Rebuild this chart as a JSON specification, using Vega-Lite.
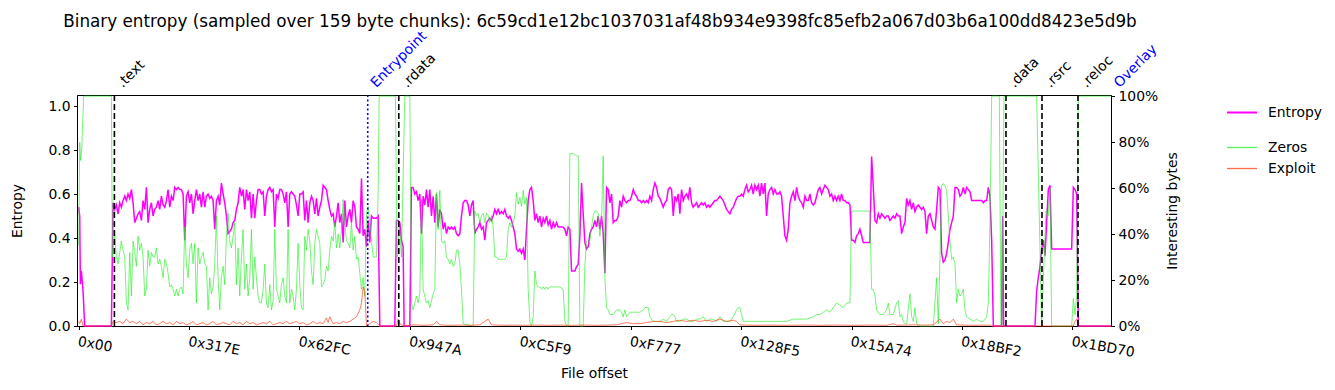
{
 "$schema": "https://vega.github.io/schema/vega-lite/v6.json",
 "width": 1034,
 "height": 231,
 "autosize": {"type": "none"},
 "padding": {"left": 77, "top": 95, "right": 224, "bottom": 64},
 "background": "white",
 "title": {"text": "Binary entropy (sampled over 159 byte chunks): 6c59cd1e12bc1037031af48b934e9398fc85efb2a067d03b6a100dd8423e5d9b", "font": "DejaVu Sans", "fontSize": 16.8, "fontWeight": "normal", "color": "black", "anchor": "middle", "frame": "group", "offset": -2, "dx": 6},
 "config": {
  "font": "DejaVu Sans",
  "view": {"stroke": "black", "strokeWidth": 1},
  "axis": {"grid": false, "labelFont": "DejaVu Sans", "labelFontSize": 13.9, "labelColor": "black", "titleFont": "DejaVu Sans", "titleFontSize": 13.9, "titleFontWeight": "normal", "titleColor": "black", "tickColor": "black", "domainColor": "black", "tickSize": 3.5, "tickWidth": 1, "domainWidth": 1, "labelPadding": 3.5},
  "legend": {"labelFont": "DejaVu Sans", "labelFontSize": 13.9, "labelColor": "black", "padding": 0, "rowPadding": 0, "symbolType": "stroke", "symbolSize": 900, "clipHeight": 21, "labelOffset": 10, "orient": "none"}
 },
 "datasets": {
  "ent": [
{"o":0,"v":0.54},{"o":115,"v":0.50},{"o":192,"v":0.19},{"o":307,"v":0.25},{"o":498,"v":0.16},{"o":689,"v":0},{"o":3751,"v":0},{"o":3942,"v":0.56},
{"o":4133,"v":0.53},{"o":4325,"v":0.55},{"o":4516,"v":0.51},{"o":4708,"v":0.56},{"o":4899,"v":0.54},{"o":5090,"v":0.57},{"o":5282,"v":0.59},{"o":5473,"v":0.57},{"o":5664,"v":0.60},{"o":5856,"v":0.58},{"o":6047,"v":0.62},{"o":6238,"v":0.56},{"o":6430,"v":0.47},{"o":6621,"v":0.49},{"o":6812,"v":0.51},{"o":7004,"v":0.52},{"o":7195,"v":0.48},{"o":7387,"v":0.57},{"o":7578,"v":0.53},{"o":7769,"v":0.63},{"o":7961,"v":0.47},{"o":8152,"v":0.53},{"o":8343,"v":0.56},{"o":8535,"v":0.50},{"o":8726,"v":0.53},{"o":8917,"v":0.54},{"o":9109,"v":0.57},{"o":9300,"v":0.53},{"o":9491,"v":0.59},{"o":9683,"v":0.55},{"o":9874,"v":0.54},{"o":10066,"v":0.57},{"o":10257,"v":0.62},{"o":10448,"v":0.54},{"o":10640,"v":0.59},{"o":10831,"v":0.57},{"o":11022,"v":0.63},{"o":11214,"v":0.62},{"o":11405,"v":0.63},{"o":11596,"v":0.62},{"o":11788,"v":0.62},{"o":11979,"v":0.60},{"o":12170,"v":0.39},{"o":12362,"v":0.59},{"o":12553,"v":0.61},{"o":12745,"v":0.56},{"o":12936,"v":0.60},{"o":13127,"v":0.51},{"o":13319,"v":0.57},{"o":13510,"v":0.62},{"o":13701,"v":0.57},{"o":13893,"v":0.60},{"o":14084,"v":0.54},{"o":14275,"v":0.61},{"o":14467,"v":0.54},{"o":14658,"v":0.59},{"o":14849,"v":0.60},{"o":15041,"v":0.58},{"o":15232,"v":0.59},{"o":15424,"v":0.57},{"o":15615,"v":0.44},{"o":15806,"v":0.57},{"o":15998,"v":0.59},{"o":16189,"v":0.55},{"o":16380,"v":0.65},{"o":16572,"v":0.60},{"o":16763,"v":0.56},{"o":16954,"v":0.50},{"o":17146,"v":0.42},{"o":17337,"v":0.43},{"o":17528,"v":0.44},{"o":17720,"v":0.47},{"o":17911,"v":0.48},{"o":18103,"v":0.53},{"o":18294,"v":0.56},{"o":18485,"v":0.63},{"o":18677,"v":0.59},{"o":18868,"v":0.62},{"o":19059,"v":0.53},{"o":19251,"v":0.62},{"o":19442,"v":0.57},{"o":19633,"v":0.61},{"o":19825,"v":0.49},{"o":20016,"v":0.60},{"o":20207,"v":0.49},{"o":20399,"v":0.57},{"o":20590,"v":0.62},{"o":20781,"v":0.62},{"o":20973,"v":0.60},{"o":21164,"v":0.61},{"o":21356,"v":0.50},{"o":21547,"v":0.59},{"o":21738,"v":0.62},{"o":21930,"v":0.63},{"o":22121,"v":0.61},{"o":22312,"v":0.62},{"o":22504,"v":0.45},{"o":22695,"v":0.60},{"o":22886,"v":0.58},{"o":23078,"v":0.62},{"o":23269,"v":0.62},{"o":23460,"v":0.60},{"o":23652,"v":0.56},{"o":23843,"v":0.61},{"o":24035,"v":0.45},{"o":24226,"v":0.60},{"o":24417,"v":0.61},{"o":24608,"v":0.60},{"o":24800,"v":0.59},{"o":24991,"v":0.55},{"o":25183,"v":0.50},{"o":25374,"v":0.60},{"o":25565,"v":0.60},{"o":25757,"v":0.61},{"o":25948,"v":0.48},{"o":26139,"v":0.57},{"o":26331,"v":0.47},{"o":26522,"v":0.56},{"o":26713,"v":0.59},{"o":26905,"v":0.57},{"o":27096,"v":0.51},{"o":27287,"v":0.58},{"o":27479,"v":0.50},{"o":27670,"v":0.54},{"o":27862,"v":0.57},{"o":28053,"v":0.64},{"o":28244,"v":0.63},{"o":28435,"v":0.62},{"o":28627,"v":0.57},{"o":28818,"v":0.53},{"o":29010,"v":0.50},{"o":29201,"v":0.51},{"o":29392,"v":0.45},{"o":29584,"v":0.50},{"o":29775,"v":0.56},{"o":29966,"v":0.47},{"o":30158,"v":0.51},{"o":30349,"v":0.38},{"o":30540,"v":0.57},{"o":30732,"v":0.45},{"o":30923,"v":0.50},{"o":31114,"v":0.53},{"o":31306,"v":0.47},{"o":31497,"v":0.57},{"o":31689,"v":0.54},{"o":31880,"v":0.45},{"o":32071,"v":0.44},{"o":32262,"v":0.42},{"o":32454,"v":0.67},{"o":32645,"v":0.41},{"o":32837,"v":0.44},{"o":33028,"v":0.36},{"o":33219,"v":0.48},{"o":33411,"v":0.38},{"o":33602,"v":0.50},{"o":33793,"v":0.49},{"o":33985,"v":0.49},{"o":34176,"v":0.49},{"o":34367,"v":0.50},{"o":34559,"v":0},{"o":36277,"v":0},{"o":36469,"v":0.48},{"o":36660,"v":0.48},{"o":36851,"v":0.47},{"o":37043,"v":0.39},{"o":37234,"v":0.36},{"o":37349,"v":0},{"o":37999,"v":0},{"o":38190,"v":0.63},
{"o":38382,"v":0.63},{"o":38573,"v":0.60},{"o":38765,"v":0.61},{"o":38956,"v":0.57},{"o":39148,"v":0.60},{"o":39339,"v":0.42},{"o":39530,"v":0.59},{"o":39722,"v":0.55},{"o":39913,"v":0.62},{"o":40104,"v":0.54},{"o":40296,"v":0.62},{"o":40487,"v":0.50},{"o":40678,"v":0.59},{"o":40870,"v":0.47},{"o":41061,"v":0.60},{"o":41252,"v":0.45},{"o":41444,"v":0.53},{"o":41635,"v":0.51},{"o":41827,"v":0.44},{"o":42018,"v":0.47},{"o":42209,"v":0.42},{"o":42401,"v":0.45},{"o":42592,"v":0.44},{"o":42783,"v":0.45},{"o":42975,"v":0.44},{"o":43166,"v":0.45},{"o":43357,"v":0.42},{"o":43549,"v":0.41},{"o":43740,"v":0.42},{"o":43931,"v":0.50},{"o":44123,"v":0.56},{"o":44314,"v":0.57},{"o":44506,"v":0.57},{"o":44697,"v":0.55},{"o":44888,"v":0.50},{"o":45080,"v":0.55},{"o":45271,"v":0.57},{"o":45462,"v":0.42},{"o":45654,"v":0.44},{"o":45845,"v":0.45},{"o":46036,"v":0.47},{"o":46228,"v":0.44},{"o":46419,"v":0.45},{"o":46610,"v":0.39},{"o":46802,"v":0.47},{"o":46993,"v":0.48},{"o":47185,"v":0.49},{"o":47376,"v":0.48},{"o":47567,"v":0.50},{"o":47759,"v":0.53},{"o":47950,"v":0.51},{"o":48141,"v":0.53},{"o":48333,"v":0.51},{"o":48524,"v":0.52},{"o":48715,"v":0.51},{"o":48907,"v":0.53},{"o":49098,"v":0.50},{"o":49289,"v":0.49},{"o":49481,"v":0.50},{"o":49672,"v":0.48},{"o":49864,"v":0.45},{"o":50055,"v":0.42},{"o":50246,"v":0.35},{"o":50438,"v":0.34},{"o":50629,"v":0.35},{"o":50820,"v":0.33},{"o":51012,"v":0.35},{"o":51203,"v":0.30},{"o":51394,"v":0.44},{"o":51586,"v":0.57},{"o":51777,"v":0.62},{"o":51968,"v":0.63},{"o":52160,"v":0.57},{"o":52351,"v":0.48},{"o":52543,"v":0.51},{"o":52734,"v":0.47},{"o":52925,"v":0.50},{"o":53117,"v":0.45},{"o":53308,"v":0.49},{"o":53499,"v":0.47},{"o":53691,"v":0.50},{"o":53882,"v":0.46},{"o":54073,"v":0.48},{"o":54265,"v":0.44},{"o":54456,"v":0.47},{"o":54647,"v":0.45},{"o":54839,"v":0.47},{"o":55030,"v":0.45},{"o":55221,"v":0.45},{"o":55413,"v":0.45},{"o":55604,"v":0.45},{"o":55796,"v":0.44},{"o":55987,"v":0.41},{"o":56178,"v":0.45},{"o":56370,"v":0.44},{"o":56561,"v":0.25},{"o":56752,"v":0.25},{"o":56944,"v":0.25},{"o":57135,"v":0.27},{"o":57326,"v":0.28},{"o":57518,"v":0.41},{"o":57709,"v":0.65},{"o":57900,"v":0.51},{"o":58092,"v":0.38},{"o":58283,"v":0.35},{"o":58475,"v":0.36},{"o":58666,"v":0.42},{"o":58857,"v":0.44},{"o":59049,"v":0.45},{"o":59240,"v":0.48},{"o":59431,"v":0.45},{"o":59623,"v":0.50},{"o":59814,"v":0.44},{"o":60005,"v":0.50},{"o":60197,"v":0.42},{"o":60388,"v":0.24},{"o":60579,"v":0.63},{"o":60771,"v":0.62},{"o":60962,"v":0.56},{"o":61153,"v":0.60},{"o":61345,"v":0.47},{"o":61536,"v":0.48},{"o":61727,"v":0.48},{"o":61919,"v":0.50},{"o":62110,"v":0.57},{"o":62302,"v":0.54},{"o":62493,"v":0.59},{"o":62684,"v":0.57},{"o":62876,"v":0.56},{"o":63067,"v":0.57},{"o":63258,"v":0.57},{"o":63450,"v":0.59},{"o":63641,"v":0.62},{"o":63832,"v":0.60},{"o":64024,"v":0.59},{"o":64215,"v":0.57},{"o":64406,"v":0.57},{"o":64598,"v":0.56},{"o":64789,"v":0.57},{"o":64980,"v":0.56},{"o":65172,"v":0.57},{"o":65363,"v":0.56},{"o":65555,"v":0.59},{"o":65746,"v":0.57},{"o":65937,"v":0.62},{"o":66129,"v":0.65},{"o":66320,"v":0.63},{"o":66511,"v":0.59},{"o":66703,"v":0.58},{"o":66894,"v":0.56},{"o":67085,"v":0.54},{"o":67277,"v":0.56},{"o":67468,"v":0.57},{"o":67659,"v":0.62},{"o":67851,"v":0.63},{"o":68042,"v":0.62},{"o":68234,"v":0.50},{"o":68425,"v":0.59},{"o":68616,"v":0.57},{"o":68808,"v":0.60},
{"o":68995,"v":0.51},{"o":69186,"v":0.62},{"o":69378,"v":0.57},{"o":69569,"v":0.59},{"o":69760,"v":0.60},{"o":69952,"v":0.58},{"o":70143,"v":0.63},{"o":70334,"v":0.56},{"o":70526,"v":0.54},{"o":70717,"v":0.55},{"o":70909,"v":0.56},{"o":71100,"v":0.54},{"o":71291,"v":0.55},{"o":71483,"v":0.56},{"o":71674,"v":0.55},{"o":71865,"v":0.56},{"o":72057,"v":0.54},{"o":72248,"v":0.55},{"o":72439,"v":0.54},{"o":72631,"v":0.55},{"o":72822,"v":0.56},{"o":73013,"v":0.57},{"o":73205,"v":0.57},{"o":73396,"v":0.58},{"o":73587,"v":0.59},{"o":73779,"v":0.58},{"o":73970,"v":0.57},{"o":74162,"v":0.55},{"o":74353,"v":0.53},{"o":74544,"v":0.52},{"o":74736,"v":0.51},{"o":74927,"v":0.53},{"o":75118,"v":0.54},{"o":75310,"v":0.56},{"o":75501,"v":0.58},{"o":75692,"v":0.59},{"o":75884,"v":0.59},{"o":76075,"v":0.60},{"o":76266,"v":0.59},{"o":76458,"v":0.62},{"o":76649,"v":0.64},{"o":76840,"v":0.61},{"o":77032,"v":0.62},{"o":77223,"v":0.64},{"o":77414,"v":0.60},{"o":77606,"v":0.64},{"o":77797,"v":0.62},{"o":77989,"v":0.64},{"o":78180,"v":0.59},{"o":78371,"v":0.65},{"o":78563,"v":0.60},{"o":78754,"v":0.65},{"o":78945,"v":0.50},{"o":79137,"v":0.60},{"o":79328,"v":0.62},{"o":79519,"v":0.63},{"o":79711,"v":0.60},{"o":79902,"v":0.62},{"o":80093,"v":0.60},{"o":80285,"v":0.60},{"o":80476,"v":0.61},{"o":80667,"v":0.59},{"o":80859,"v":0.50},{"o":81050,"v":0.41},{"o":81241,"v":0.39},{"o":81433,"v":0.44},{"o":81624,"v":0.56},{"o":81816,"v":0.59},{"o":82007,"v":0.61},{"o":82198,"v":0.57},{"o":82390,"v":0.63},{"o":82581,"v":0.59},{"o":82772,"v":0.57},{"o":82964,"v":0.56},{"o":83155,"v":0.54},{"o":83346,"v":0.59},{"o":83538,"v":0.57},{"o":83729,"v":0.57},{"o":83920,"v":0.60},{"o":84112,"v":0.56},{"o":84303,"v":0.55},{"o":84494,"v":0.56},{"o":84686,"v":0.59},{"o":84877,"v":0.62},{"o":85068,"v":0.63},{"o":85260,"v":0.60},{"o":85451,"v":0.62},{"o":85643,"v":0.64},{"o":85834,"v":0.63},{"o":86025,"v":0.62},{"o":86217,"v":0.59},{"o":86408,"v":0.60},{"o":86599,"v":0.57},{"o":86791,"v":0.59},{"o":86982,"v":0.57},{"o":87173,"v":0.59},{"o":87365,"v":0.57},{"o":87556,"v":0.60},{"o":87747,"v":0.57},{"o":87939,"v":0.57},{"o":88130,"v":0.56},{"o":88321,"v":0.56},{"o":88513,"v":0.55},{"o":88704,"v":0.39},{"o":88895,"v":0.39},{"o":89087,"v":0.38},{"o":89278,"v":0.41},{"o":89470,"v":0.42},{"o":89661,"v":0.44},{"o":89852,"v":0.41},{"o":90044,"v":0.38},{"o":90235,"v":0.38},{"o":90426,"v":0.38},{"o":90618,"v":0.38},{"o":90809,"v":0.38},{"o":91000,"v":0.77},{"o":91192,"v":0.63},{"o":91383,"v":0.48},{"o":91574,"v":0.47},{"o":91766,"v":0.51},{"o":91957,"v":0.49},{"o":92148,"v":0.51},{"o":92340,"v":0.50},{"o":92531,"v":0.49},{"o":92722,"v":0.50},{"o":92914,"v":0.50},{"o":93105,"v":0.48},{"o":93297,"v":0.49},{"o":93488,"v":0.50},{"o":93679,"v":0.49},{"o":93871,"v":0.51},{"o":94062,"v":0.50},{"o":94253,"v":0.50},{"o":94445,"v":0.42},{"o":94636,"v":0.45},{"o":94827,"v":0.47},{"o":95019,"v":0.58},{"o":95210,"v":0.55},{"o":95401,"v":0.57},{"o":95593,"v":0.53},{"o":95784,"v":0.56},{"o":95975,"v":0.52},{"o":96167,"v":0.54},{"o":96358,"v":0.55},{"o":96549,"v":0.54},{"o":96741,"v":0.53},{"o":96932,"v":0.54},{"o":97124,"v":0.52},{"o":97315,"v":0.42},{"o":97506,"v":0.50},{"o":97698,"v":0.51},{"o":97889,"v":0.48},{"o":98080,"v":0.45},{"o":98272,"v":0.44},{"o":98463,"v":0.53},{"o":98654,"v":0.63},{"o":98846,"v":0.62},{"o":99037,"v":0.33},{"o":99228,"v":0.29},{"o":99420,"v":0.30},{"o":99611,"v":0.33},{"o":99802,"v":0.38},{"o":99994,"v":0.44},{"o":100185,"v":0.47},{"o":100376,"v":0.50},{"o":100568,"v":0.63},{"o":100759,"v":0.63},{"o":100951,"v":0.62},{"o":101142,"v":0.59},{"o":101333,"v":0.60},{"o":101525,"v":0.63},{"o":101716,"v":0.60},{"o":101907,"v":0.63},{"o":102099,"v":0.62},{"o":102290,"v":0.61},{"o":102481,"v":0.57},{"o":102673,"v":0.57},{"o":102864,"v":0.57},{"o":103055,"v":0.57},{"o":103247,"v":0.57},{"o":103438,"v":0.57},{"o":103629,"v":0.57},{"o":103821,"v":0.56},{"o":104012,"v":0.57},{"o":104203,"v":0.57},{"o":104395,"v":0.63},{"o":104586,"v":0.59},{"o":104778,"v":0.39},{"o":104969,"v":0},{"o":105923,"v":0},{"o":106038,"v":0.5},{"o":106153,"v":0},{"o":109750,"v":0},{"o":109941,"v":0.16},{"o":110133,"v":0.22},{"o":110324,"v":0.27},{"o":110515,"v":0.35},{"o":110707,"v":0.39},{"o":110898,"v":0.32},{"o":111089,"v":0.47},{"o":111281,"v":0.62},{"o":111472,"v":0.64},{"o":111663,"v":0.35},{"o":113960,"v":0.35},{"o":114151,"v":0.63},{"o":114343,"v":0.62},{"o":114534,"v":0.60},{"o":114725,"v":0},{"o":118474,"v":0}
  ],
  "zer": [
{"o":0,"v":0.35},{"o":115,"v":0.80},{"o":230,"v":0.72},{"o":345,"v":0.77},{"o":574,"v":1.0},{"o":3751,"v":1.0},{"o":3865,"v":0.30},
{"o":4133,"v":0.40},{"o":4325,"v":0.30},{"o":4516,"v":0.27},{"o":4708,"v":0.32},{"o":4899,"v":0.37},{"o":5090,"v":0.33},{"o":5282,"v":0.30},{"o":5473,"v":0.10},{"o":5664,"v":0.07},{"o":5856,"v":0.32},{"o":6047,"v":0.13},{"o":6238,"v":0.37},{"o":6430,"v":0.32},{"o":6621,"v":0.26},{"o":6812,"v":0.39},{"o":7004,"v":0.33},{"o":7195,"v":0.36},{"o":7387,"v":0.30},{"o":7578,"v":0.13},{"o":7769,"v":0.16},{"o":7961,"v":0.33},{"o":8152,"v":0.26},{"o":8343,"v":0.32},{"o":8535,"v":0.30},{"o":8726,"v":0.30},{"o":8917,"v":0.34},{"o":9109,"v":0.27},{"o":9300,"v":0.29},{"o":9491,"v":0.26},{"o":9683,"v":0.21},{"o":9874,"v":0.29},{"o":10066,"v":0.27},{"o":10257,"v":0.23},{"o":10448,"v":0.17},{"o":10640,"v":0.18},{"o":10831,"v":0.16},{"o":11022,"v":0.13},{"o":11214,"v":0.16},{"o":11405,"v":0.13},{"o":11596,"v":0.16},{"o":11788,"v":0.17},{"o":11979,"v":0.14},{"o":12170,"v":0.43},{"o":12362,"v":0.27},{"o":12553,"v":0.21},{"o":12745,"v":0.33},{"o":12936,"v":0.36},{"o":13127,"v":0.27},{"o":13319,"v":0.36},{"o":13510,"v":0.10},{"o":13701,"v":0.34},{"o":13893,"v":0.27},{"o":14084,"v":0.30},{"o":14275,"v":0.32},{"o":14467,"v":0.27},{"o":14658,"v":0.26},{"o":14849,"v":0.07},{"o":15041,"v":0.21},{"o":15232,"v":0.14},{"o":15424,"v":0.17},{"o":15615,"v":0.27},{"o":15806,"v":0.48},{"o":15998,"v":0.21},{"o":16189,"v":0.07},{"o":16380,"v":0.21},{"o":16572,"v":0.26},{"o":16763,"v":0.18},{"o":16954,"v":0.39},{"o":17146,"v":0.49},{"o":17337,"v":0.37},{"o":17528,"v":0.34},{"o":17720,"v":0.39},{"o":17911,"v":0.45},{"o":18103,"v":0.18},{"o":18294,"v":0.34},{"o":18485,"v":0.13},{"o":18677,"v":0.30},{"o":18868,"v":0.42},{"o":19059,"v":0.16},{"o":19251,"v":0.27},{"o":19442,"v":0.13},{"o":19633,"v":0.21},{"o":19825,"v":0.42},{"o":20016,"v":0.16},{"o":20207,"v":0.30},{"o":20399,"v":0.21},{"o":20590,"v":0.13},{"o":20781,"v":0.10},{"o":20973,"v":0.10},{"o":21164,"v":0.16},{"o":21356,"v":0.27},{"o":21547,"v":0.10},{"o":21738,"v":0.08},{"o":21930,"v":0.18},{"o":22121,"v":0.07},{"o":22312,"v":0.11},{"o":22504,"v":0.42},{"o":22695,"v":0.16},{"o":22886,"v":0.13},{"o":23078,"v":0.10},{"o":23269,"v":0.18},{"o":23460,"v":0.21},{"o":23652,"v":0.13},{"o":23843,"v":0.10},{"o":24035,"v":0.42},{"o":24226,"v":0.10},{"o":24417,"v":0.16},{"o":24608,"v":0.13},{"o":24800,"v":0.07},{"o":24991,"v":0.16},{"o":25183,"v":0.36},{"o":25374,"v":0.18},{"o":25565,"v":0.08},{"o":25757,"v":0.07},{"o":25948,"v":0.39},{"o":26139,"v":0.33},{"o":26331,"v":0.42},{"o":26522,"v":0.37},{"o":26713,"v":0.24},{"o":26905,"v":0.18},{"o":27096,"v":0.36},{"o":27287,"v":0.42},{"o":27479,"v":0.39},{"o":27670,"v":0.36},{"o":27862,"v":0.17},{"o":28053,"v":0.18},{"o":28244,"v":0.20},{"o":28435,"v":0.26},{"o":28627,"v":0.24},{"o":28818,"v":0.33},{"o":29010,"v":0.39},{"o":29201,"v":0.37},{"o":29392,"v":0.45},{"o":29584,"v":0.34},{"o":29775,"v":0.40},{"o":29966,"v":0.34},{"o":30158,"v":0.42},{"o":30349,"v":0.55},{"o":30540,"v":0.45},{"o":30732,"v":0.37},{"o":30923,"v":0.36},{"o":31114,"v":0.34},{"o":31306,"v":0.45},{"o":31497,"v":0.33},{"o":31689,"v":0.39},{"o":31880,"v":0.29},{"o":32071,"v":0.30},{"o":32262,"v":0.23},{"o":32454,"v":0.16},{"o":32645,"v":0.21},{"o":32837,"v":0.13},{"o":33028,"v":0.49},{"o":33219,"v":0.52},{"o":33411,"v":0.45},{"o":33602,"v":0.37},{"o":33793,"v":0.30},{"o":33985,"v":0.30},{"o":34176,"v":0.30},{"o":34367,"v":0.59},{"o":34482,"v":1.0},{"o":36354,"v":1.0},{"o":36545,"v":0.3},{"o":36775,"v":0.45},{"o":37043,"v":0.3},{"o":37425,"v":1.0},{"o":37999,"v":1.0},{"o":38190,"v":0.10},
{"o":38382,"v":0.07},{"o":38573,"v":0.10},{"o":38765,"v":0.13},{"o":38956,"v":0.10},{"o":39148,"v":0.14},{"o":39339,"v":0.55},{"o":39530,"v":0.16},{"o":39722,"v":0.13},{"o":39913,"v":0.10},{"o":40104,"v":0.11},{"o":40296,"v":0.08},{"o":40487,"v":0.11},{"o":40678,"v":0.14},{"o":40870,"v":0.16},{"o":41061,"v":0.58},{"o":41252,"v":0.42},{"o":41444,"v":0.59},{"o":41635,"v":0.37},{"o":41827,"v":0.36},{"o":42018,"v":0.37},{"o":42209,"v":0.30},{"o":42401,"v":0.29},{"o":42592,"v":0.27},{"o":42783,"v":0.29},{"o":42975,"v":0.26},{"o":43166,"v":0.27},{"o":43357,"v":0.33},{"o":43549,"v":0.33},{"o":43740,"v":0.27},{"o":43931,"v":0.16},{"o":44123,"v":0.01},{"o":45271,"v":0},{"o":45462,"v":0.50},{"o":45654,"v":0.48},{"o":45845,"v":0.49},{"o":46036,"v":0.45},{"o":46228,"v":0.48},{"o":46419,"v":0.49},{"o":46610,"v":0.45},{"o":46802,"v":0.49},{"o":46993,"v":0.48},{"o":47185,"v":0.45},{"o":47376,"v":0.48},{"o":47567,"v":0.43},{"o":47759,"v":0.30},{"o":47950,"v":0.30},{"o":48141,"v":0.29},{"o":48333,"v":0.29},{"o":48524,"v":0.29},{"o":48715,"v":0.29},{"o":48907,"v":0.29},{"o":49098,"v":0.30},{"o":49289,"v":0.42},{"o":49481,"v":0.45},{"o":49672,"v":0.43},{"o":49864,"v":0.45},{"o":50055,"v":0.48},{"o":50246,"v":0.58},{"o":50438,"v":0.53},{"o":50629,"v":0.56},{"o":50820,"v":0.52},{"o":51012,"v":0.59},{"o":51203,"v":0.53},{"o":51394,"v":0.56},{"o":51586,"v":0.16},{"o":51777,"v":0.02},{"o":51968,"v":0},{"o":52160,"v":0.04},{"o":52351,"v":0.24},{"o":52543,"v":0.18},{"o":52734,"v":0.17},{"o":52925,"v":0.17},{"o":53117,"v":0.16},{"o":53308,"v":0.17},{"o":53499,"v":0.16},{"o":53691,"v":0.17},{"o":53882,"v":0.16},{"o":54073,"v":0.17},{"o":54456,"v":0.17},{"o":54839,"v":0.17},{"o":55221,"v":0.17},{"o":55604,"v":0.16},{"o":55796,"v":0.02},{"o":55987,"v":0},{"o":56178,"v":0},{"o":56370,"v":0.75},{"o":56752,"v":0.75},{"o":57135,"v":0.74},{"o":57326,"v":0.74},{"o":57518,"v":0},{"o":57900,"v":0},{"o":58092,"v":0.26},{"o":58283,"v":0.37},{"o":58475,"v":0.37},{"o":58666,"v":0.37},{"o":58857,"v":0.43},{"o":59049,"v":0.48},{"o":59240,"v":0.50},{"o":59431,"v":0.50},{"o":59623,"v":0.49},{"o":59814,"v":0.39},{"o":60005,"v":0.46},{"o":60197,"v":0.74},{"o":60388,"v":0.21},{"o":60579,"v":0.08},{"o":60771,"v":0.07},{"o":60962,"v":0.05},{"o":61345,"v":0.05},{"o":61727,"v":0.07},{"o":62110,"v":0.07},{"o":62302,"v":0.06},{"o":62493,"v":0.04},{"o":62684,"v":0.07},{"o":62876,"v":0.04},{"o":63258,"v":0.06},{"o":63641,"v":0.06},{"o":64024,"v":0.06},{"o":64406,"v":0.06},{"o":64789,"v":0.07},{"o":64980,"v":0.08},{"o":65172,"v":0.08},{"o":65363,"v":0.08},{"o":65555,"v":0.04},{"o":65937,"v":0.02},{"o":66320,"v":0.02},{"o":66703,"v":0.02},{"o":67085,"v":0.03},{"o":67468,"v":0.02},{"o":67851,"v":0.04},{"o":68042,"v":0.05},{"o":68234,"v":0.05},{"o":68425,"v":0.04},{"o":68616,"v":0.02},{"o":68808,"v":0.02},
{"o":68995,"v":0.02},{"o":69378,"v":0.03},{"o":69760,"v":0.03},{"o":70143,"v":0.02},{"o":70526,"v":0.02},{"o":70909,"v":0.03},{"o":71291,"v":0.03},{"o":71674,"v":0.04},{"o":72057,"v":0.02},{"o":72439,"v":0.03},{"o":72822,"v":0.03},{"o":73205,"v":0.02},{"o":73587,"v":0.04},{"o":73970,"v":0.02},{"o":74353,"v":0.02},{"o":74736,"v":0.02},{"o":75118,"v":0.04},{"o":75501,"v":0.07},{"o":75692,"v":0.08},{"o":75884,"v":0.08},{"o":76075,"v":0.05},{"o":76266,"v":0.02},{"o":76649,"v":0.02},{"o":77414,"v":0.02},{"o":78180,"v":0.02},{"o":78945,"v":0.02},{"o":79711,"v":0.02},{"o":80476,"v":0.02},{"o":80859,"v":0.02},{"o":81241,"v":0.02},{"o":82007,"v":0.03},{"o":82772,"v":0.03},{"o":83538,"v":0.03},{"o":84303,"v":0.04},{"o":84686,"v":0.05},{"o":85068,"v":0.05},{"o":85451,"v":0.06},{"o":85834,"v":0.07},{"o":86217,"v":0.06},{"o":86599,"v":0.08},{"o":86982,"v":0.10},{"o":87365,"v":0.09},{"o":87747,"v":0.08},{"o":88130,"v":0.10},{"o":88513,"v":0.10},{"o":88704,"v":0.50},{"o":89278,"v":0.50},{"o":90044,"v":0.50},{"o":90809,"v":0.50},{"o":91000,"v":0.16},{"o":91192,"v":0.16},{"o":91383,"v":0.13},{"o":91574,"v":0.07},{"o":91957,"v":0.05},{"o":92340,"v":0.05},{"o":92722,"v":0.07},{"o":92914,"v":0.10},{"o":93105,"v":0.05},{"o":93488,"v":0.05},{"o":93871,"v":0.10},{"o":94062,"v":0.11},{"o":94253,"v":0.04},{"o":94445,"v":0.05},{"o":94636,"v":0.02},{"o":94827,"v":0.01},{"o":95019,"v":0.01},{"o":95401,"v":0.14},{"o":95593,"v":0.04},{"o":95784,"v":0.02},{"o":95975,"v":0.08},{"o":96167,"v":0.01},{"o":96549,"v":0},{"o":98080,"v":0},{"o":98463,"v":0.21},{"o":98654,"v":0.01},{"o":98846,"v":0.30},{"o":99037,"v":0.61},{"o":99228,"v":0.62},{"o":99420,"v":0.61},{"o":99611,"v":0.59},{"o":99802,"v":0.48},{"o":99994,"v":0.37},{"o":100185,"v":0.29},{"o":100376,"v":0.30},{"o":100568,"v":0.27},{"o":100759,"v":0.10},{"o":100951,"v":0.16},{"o":101142,"v":0.13},{"o":101333,"v":0.14},{"o":101525,"v":0.16},{"o":101716,"v":0.07},{"o":101907,"v":0.04},{"o":102290,"v":0.03},{"o":102673,"v":0.02},{"o":103055,"v":0.03},{"o":103438,"v":0.02},{"o":103821,"v":0.02},{"o":104203,"v":0.04},{"o":104395,"v":0.10},{"o":104586,"v":0.45},{"o":104778,"v":1.0},{"o":105655,"v":1.0},{"o":105846,"v":0},{"o":105961,"v":0},{"o":106191,"v":1.0},{"o":109941,"v":1.0},{"o":110515,"v":0},{"o":110707,"v":0.2},{"o":111013,"v":0.5},{"o":111281,"v":0.48},{"o":111472,"v":0.6},{"o":111663,"v":0},{"o":113960,"v":0},{"o":114151,"v":0.12},{"o":114343,"v":0.05},{"o":114534,"v":0.13},{"o":114725,"v":1.0},{"o":118474,"v":1.0}
  ],
  "exp": [
{"o":0,"v":0.02},{"o":115,"v":0.01},{"o":307,"v":0.03},{"o":498,"v":0},{"o":3751,"v":0},{"o":3942,"v":0.02},{"o":4325,"v":0.015},{"o":4708,"v":0.02},{"o":5090,"v":0.01},{"o":5473,"v":0.03},{"o":5856,"v":0.015},{"o":6238,"v":0.02},{"o":6621,"v":0.01},{"o":7004,"v":0.02},{"o":7387,"v":0.005},{"o":7769,"v":0.015},{"o":8152,"v":0.01},{"o":8535,"v":0.02},{"o":8917,"v":0.005},{"o":9300,"v":0.01},{"o":9683,"v":0.02},{"o":10066,"v":0.01},{"o":10448,"v":0.015},{"o":10831,"v":0.005},{"o":11214,"v":0.02},{"o":11596,"v":0.01},{"o":11979,"v":0.015},{"o":12362,"v":0.005},{"o":12745,"v":0.01},{"o":13127,"v":0.02},{"o":13510,"v":0.005},{"o":13893,"v":0.01},{"o":14275,"v":0.015},{"o":14658,"v":0.005},{"o":15041,"v":0.01},{"o":15424,"v":0.02},{"o":15806,"v":0.005},{"o":16189,"v":0.01},{"o":16572,"v":0.015},{"o":16954,"v":0.01},{"o":17337,"v":0.005},{"o":17720,"v":0.02},{"o":18103,"v":0.01},{"o":18485,"v":0.015},{"o":18868,"v":0.005},{"o":19251,"v":0.02},{"o":19633,"v":0.01},{"o":20016,"v":0.015},{"o":20399,"v":0.005},{"o":20781,"v":0.01},{"o":21164,"v":0.015},{"o":21547,"v":0.01},{"o":21930,"v":0.02},{"o":22312,"v":0.005},{"o":22695,"v":0.01},{"o":23078,"v":0.015},{"o":23460,"v":0.01},{"o":23843,"v":0.02},{"o":24226,"v":0.01},{"o":24608,"v":0.015},{"o":24991,"v":0.02},{"o":25374,"v":0.01},{"o":25757,"v":0.015},{"o":26139,"v":0.005},{"o":26522,"v":0.01},{"o":26905,"v":0.02},{"o":27287,"v":0.01},{"o":27670,"v":0.015},{"o":28053,"v":0.01},{"o":28435,"v":0.035},{"o":28627,"v":0.015},{"o":28818,"v":0.04},{"o":29201,"v":0.01},{"o":29584,"v":0.015},{"o":29966,"v":0.01},{"o":30349,"v":0.02},{"o":30732,"v":0.015},{"o":31114,"v":0.02},{"o":31497,"v":0.03},{"o":31880,"v":0.04},{"o":32262,"v":0.07},{"o":32454,"v":0.10},{"o":32645,"v":0.17},{"o":32837,"v":0.15},{"o":33028,"v":0},{"o":33411,"v":0.01},{"o":33793,"v":0.02},{"o":34176,"v":0.015},{"o":34559,"v":0},{"o":36469,"v":0},{"o":36660,"v":0.03},{"o":36851,"v":0.01},{"o":37234,"v":0},{"o":38382,"v":0.005},{"o":39530,"v":0.003},{"o":40678,"v":0.005},{"o":41061,"v":0.02},{"o":41444,"v":0.005},{"o":42592,"v":0.003},{"o":43740,"v":0.004},{"o":44888,"v":0.003},{"o":46036,"v":0.005},{"o":46993,"v":0.03},{"o":47376,"v":0.005},{"o":48907,"v":0.003},{"o":50055,"v":0.004},{"o":51203,"v":0.003},{"o":52543,"v":0.004},{"o":53882,"v":0.003},{"o":55221,"v":0.004},{"o":56561,"v":0.003},{"o":57900,"v":0.004},{"o":59240,"v":0.003},{"o":60579,"v":0.004},{"o":61727,"v":0.005},{"o":62302,"v":0.01},{"o":62876,"v":0.015},{"o":63641,"v":0.01},{"o":64406,"v":0.01},{"o":65172,"v":0.015},{"o":65937,"v":0.02},{"o":66703,"v":0.02},{"o":67468,"v":0.015},{"o":68234,"v":0.02},{"o":68995,"v":0.025},{"o":69760,"v":0.02},{"o":70526,"v":0.025},{"o":71291,"v":0.02},{"o":72057,"v":0.025},{"o":72822,"v":0.02},{"o":73587,"v":0.03},{"o":74353,"v":0.02},{"o":75118,"v":0.025},{"o":75501,"v":0.02},{"o":75884,"v":0.005},{"o":77414,"v":0.003},{"o":79328,"v":0.004},{"o":81241,"v":0.003},{"o":83155,"v":0.004},{"o":85068,"v":0.003},{"o":86982,"v":0.004},{"o":88895,"v":0.003},{"o":90809,"v":0.004},{"o":92722,"v":0.003},{"o":93488,"v":0.01},{"o":93871,"v":0.003},{"o":95784,"v":0.005},{"o":96932,"v":0.004},{"o":98080,"v":0.005},{"o":98846,"v":0.03},{"o":99228,"v":0.01},{"o":99611,"v":0.02},{"o":99994,"v":0.015},{"o":100376,"v":0.03},{"o":100759,"v":0.005},{"o":102673,"v":0.003},{"o":104586,"v":0.004},{"o":104778,"v":0},{"o":114151,"v":0},{"o":114343,"v":0.02},{"o":114534,"v":0.03},{"o":114725,"v":0},{"o":118474,"v":0}
  ],
  "sec": [
{"o":4096,"name":".text","kind":"sec"},{"o":33170,"name":"Entrypoint","kind":"ep"},{"o":36736,"name":".rdata","kind":"sec"},{"o":106420,"name":".data","kind":"sec"},{"o":110553,"name":".rsrc","kind":"sec"},{"o":114685,"name":".reloc","kind":"sec"},{"o":118474,"name":"Overlay","kind":"ov"}
  ]
 },
 "layer": [
  {
   "data": {"name": "ent"},
   "mark": {"type": "line", "strokeWidth": 1.5},
   "encoding": {
    "x": {"field": "o", "type": "quantitative", "scale": {"domain": [-195, 118474], "nice": false, "zero": false},
          "axis": {"values": [0, 12670, 25340, 38010, 50681, 63351, 76021, 88692, 101362, 114032], "labelExpr": "'0x' + format(datum.value, '02X')", "labelAngle": 10, "labelAlign": "left", "labelBaseline": "top", "labelPadding": 5, "title": "File offset", "titleY": 40, "titleBaseline": "top"}},
    "y": {"field": "v", "type": "quantitative", "scale": {"domain": [0, 1.05], "nice": false},
          "axis": {"orient": "left", "values": [0, 0.2, 0.4, 0.6, 0.8, 1.0], "format": ".1f", "title": "Entropy", "titleAngle": 270, "titleX": -60, "titleY": 115.5, "titleBaseline": "middle", "titleAlign": "center"}},
    "stroke": {"datum": "Entropy", "type": "nominal", "scale": {"domain": ["Entropy"], "range": ["#ff00ff"]},
               "legend": {"title": null, "orient": "none", "legendX": 1149, "legendY": 7, "symbolStrokeWidth": 2}}
   }
  },
  {
   "layer": [
    {
     "data": {"name": "zer"},
     "mark": {"type": "line", "strokeWidth": 0.9, "opacity": 0.7},
     "encoding": {
      "x": {"field": "o", "type": "quantitative", "scale": {"domain": [-195, 118474], "nice": false, "zero": false}, "title": "File offset"},
      "y": {"field": "v", "type": "quantitative", "scale": {"domain": [0, 1.005], "nice": false},
            "axis": {"orient": "right", "values": [0, 0.2, 0.4, 0.6, 0.8, 1.0], "format": ".0%", "title": "Interesting bytes", "titleAngle": 270, "titleX": 61, "titleY": 115.5, "titleBaseline": "middle", "titleAlign": "center"}},
      "color": {"datum": "Zeros", "type": "nominal", "scale": {"domain": ["Zeros", "Exploit"], "range": ["#22ee22", "#ff3a10"]},
                "legend": {"title": null, "orient": "none", "legendX": 1149, "legendY": 42, "symbolStrokeWidth": 1.3, "symbolOpacity": 0.8}}
     }
    },
    {
     "data": {"name": "exp"},
     "mark": {"type": "line", "strokeWidth": 0.9, "opacity": 0.75},
     "encoding": {
      "x": {"field": "o", "type": "quantitative", "scale": {"domain": [-195, 118474], "nice": false, "zero": false}, "title": "File offset"},
      "y": {"field": "v", "type": "quantitative"},
      "color": {"datum": "Exploit", "type": "nominal"}
     }
    }
   ]
  },
  {
   "data": {"name": "sec"},
   "layer": [
    {
     "transform": [{"filter": "datum.kind === 'sec'"}],
     "mark": {"type": "rule", "strokeDash": [6, 3], "strokeWidth": 1.6, "color": "black"},
     "encoding": {"x": {"field": "o", "type": "quantitative", "scale": {"domain": [-195, 118474], "nice": false, "zero": false}, "title": "File offset"}}
    },
    {
     "transform": [{"filter": "datum.kind === 'ep'"}],
     "mark": {"type": "rule", "strokeDash": [2, 2.5], "strokeWidth": 1.6, "color": "blue"},
     "encoding": {"x": {"field": "o", "type": "quantitative", "scale": {"domain": [-195, 118474], "nice": false, "zero": false}, "title": "File offset"}}
    },
    {
     "mark": {"type": "text", "angle": 315, "align": "left", "baseline": "alphabetic", "fontSize": 13.9, "font": "DejaVu Sans", "dx": 4.4, "dy": 7.5},
     "encoding": {
      "x": {"field": "o", "type": "quantitative", "scale": {"domain": [-195, 118474], "nice": false, "zero": false}, "title": "File offset"},
      "y": {"datum": 1.091, "type": "quantitative", "scale": {"domain": [0, 1.05], "nice": false}, "axis": null},
      "text": {"field": "name"},
      "color": {"condition": {"test": "datum.kind !== 'sec'", "value": "blue"}, "value": "black"}
     }
    }
   ]
  }
 ],
 "resolve": {"scale": {"y": "independent"}}
}
